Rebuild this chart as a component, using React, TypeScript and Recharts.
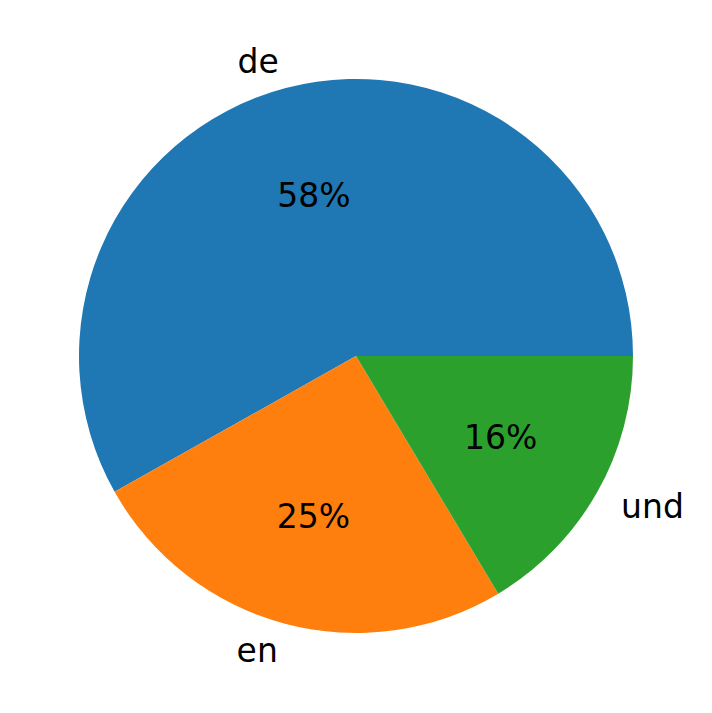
import { PieChart, Pie, Cell } from 'recharts'

// language shares (percent)
const languages = ['de', 'en', 'und']
const shares = [58.1, 25.4, 16.4]
const COLORS = ['#1f77b4', '#ff7f0e', '#2ca02c']

const data = languages.map((name, i) => ({ name, value: shares[i] }))

const RAD = Math.PI / 180

function renderLabel(props: any) {
  const { cx, cy, midAngle, outerRadius, percent, name } = props
  const cos = Math.cos(-midAngle * RAD)
  const sin = Math.sin(-midAngle * RAD)
  const ox = cx + outerRadius * 1.1 * cos
  const oy = cy + outerRadius * 1.1 * sin
  const ix = cx + outerRadius * 0.6 * cos
  const iy = cy + outerRadius * 0.6 * sin
  return (
    <g>
      <text x={ox} y={oy} textAnchor={cos > 0 ? 'start' : 'end'} dominantBaseline="central"
        fill="#000" fontSize={33} fontFamily="DejaVu Sans">
        {name}
      </text>
      <text x={ix} y={iy} textAnchor="middle" dominantBaseline="central"
        fill="#000" fontSize={33} fontFamily="DejaVu Sans">
        {Math.round(percent * 100)}%
      </text>
    </g>
  )
}

export default function App() {
  return (
    <div style={{ position: 'fixed', left: 0, top: 0, width: 712, height: 713, background: '#fff' }}>
      <PieChart width={712} height={713} margin={{ top: 0, right: 0, bottom: 0, left: 0 }}>
        <Pie
          data={data}
          dataKey="value"
          nameKey="name"
          cx={356}
          cy={356}
          outerRadius={277}
          startAngle={0}
          endAngle={360}
          stroke="none"
          label={renderLabel}
          labelLine={false}
          isAnimationActive={false}
        >
          {data.map((_, i) => (
            <Cell key={i} fill={COLORS[i]} />
          ))}
        </Pie>
      </PieChart>
    </div>
  )
}
